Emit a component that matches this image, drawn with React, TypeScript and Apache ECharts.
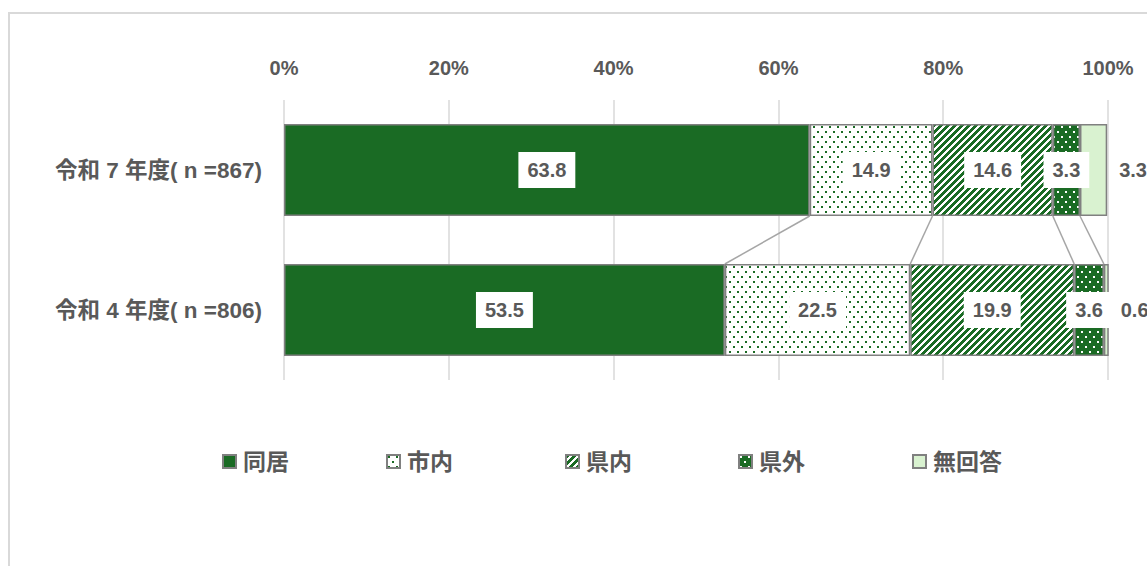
import React, { useEffect, useRef } from "react";
import * as echarts from "echarts";

const categories = ["令和７年度( n =867)", "令和４年度( n =806)"];
const categoryLabels = ["令和 7 年度( n =867)", "令和 4 年度( n =806)"];
const seriesNames = ["同居", "市内", "県内", "県外", "無回答"];
const r7Values = [63.8, 14.9, 14.6, 3.3, 3.3];
const r4Values = [53.5, 22.5, 19.9, 3.6, 0.6];
const xTicks = [0, 20, 40, 60, 80, 100];

const GREEN = "#1a6b24";
const LIGHT = "#d9f2d0";
const FONT = "'Liberation Sans', Arial, 'Noto Sans CJK JP', sans-serif";
const legendLefts = [222, 386, 565, 738, 912];

function makePattern(w: number, h: number, bg: string, fg: string, test: (x: number, y: number) => boolean) {
  const c = document.createElement("canvas");
  c.width = w;
  c.height = h;
  const ctx = c.getContext("2d")!;
  ctx.fillStyle = bg;
  ctx.fillRect(0, 0, w, h);
  ctx.fillStyle = fg;
  for (let y = 0; y < h; y++) {
    for (let x = 0; x < w; x++) {
      if (test(x, y)) ctx.fillRect(x, y, 1, 1);
    }
  }
  return { image: c, repeat: "repeat", imageWidth: w, imageHeight: h } as any;
}

const dotTest = (x: number, y: number) =>
  ((x === 1 || x === 2) && (y === 1 || y === 2)) || ((x === 5 || x === 6) && (y === 6 || y === 7));

export default function App() {
  const ref = useRef<HTMLDivElement>(null);
  useEffect(() => {
    if (!ref.current) return;
    const chart = echarts.init(ref.current, undefined, { renderer: "svg" });

    const fills: any[] = [
      GREEN,
      makePattern(8, 10, "#ffffff", GREEN, dotTest),
      makePattern(7, 7, "#ffffff", GREEN, (x, y) => (x + y) % 7 < 4),
      makePattern(8, 10, GREEN, "#ffffff", dotTest),
      LIGHT,
    ];

    const barSeries = seriesNames.map((name, i) => ({
      name,
      type: "bar",
      stack: "total",
      barWidth: 92,
      data: [r7Values[i], r4Values[i]],
      itemStyle: { color: fills[i], borderColor: "#808080", borderWidth: 1.5 },
      label: {
        show: true,
        position: i === 4 ? "right" : "inside",
        distance: 12,
        formatter: (p: any) => Number(p.value).toFixed(1),
        fontFamily: FONT,
        fontSize: 20,
        fontWeight: "bold",
        color: "#595959",
        backgroundColor: i === 4 ? "transparent" : "#ffffff",
        padding: i === 4 ? 0 : [8, 9],
      },
      emphasis: { disabled: true },
    }));

    // cumulative boundaries for series lines
    const lineData: number[][] = [];
    let a = 0;
    let b = 0;
    for (let i = 0; i < seriesNames.length - 1; i++) {
      a += r7Values[i];
      b += r4Values[i];
      lineData.push([a, b, 0]);
    }

    const seriesLines = {
      type: "custom",
      silent: true,
      encode: { x: [0, 1], y: 2 },
      data: lineData,
      renderItem: (params: any, api: any) => {
        const p1 = api.coord([api.value(0), 0]);
        const p2 = api.coord([api.value(1), 1]);
        return {
          type: "line",
          shape: { x1: p1[0], y1: p1[1] + 46, x2: p2[0], y2: p2[1] - 46 },
          style: { stroke: "#a6a6a6", lineWidth: 1.5 },
        };
      },
      z: 1,
    };

    chart.setOption({
      animation: false,
      textStyle: { fontFamily: FONT },
      graphic: [
        {
          type: "rect",
          shape: { x: 9, y: 13, width: 1300, height: 700 },
          style: { fill: "none", stroke: "#d9d9d9", lineWidth: 2 },
          silent: true,
        },
      ],
      grid: { left: 284, right: 39, top: 100, bottom: 186, containLabel: false },
      xAxis: {
        type: "value",
        position: "top",
        min: 0,
        max: 100,
        interval: 20,
        axisLine: { show: false },
        axisTick: { show: false },
        splitLine: { show: true, lineStyle: { color: "#d9d9d9", width: 1.5 } },
        axisLabel: {
          formatter: (v: number) => (xTicks.includes(v) ? v + "%" : ""),
          fontFamily: FONT,
          fontSize: 20,
          fontWeight: "bold",
          color: "#595959",
          margin: 22,
        },
      },
      yAxis: {
        type: "category",
        inverse: true,
        data: categories,
        axisLine: { show: false },
        axisTick: { show: false },
        axisLabel: {
          formatter: (_v: string, idx: number) => categoryLabels[idx],
          fontFamily: FONT,
          fontSize: 22.5,
          fontWeight: "bold",
          color: "#595959",
          margin: 22,
        },
      },
      legend: seriesNames.map((name, i) => ({
        data: [{ name, icon: "rect" }],
        left: legendLefts[i],
        top: 450,
        padding: 0,
        itemWidth: 13,
        itemHeight: 13,
        itemGap: 7,
        selectedMode: false,
        textStyle: { fontFamily: FONT, fontSize: 23, fontWeight: "bold", color: "#595959", padding: [0, 0, 0, 2] },
      })),
      series: [...barSeries, seriesLines],
    });
    return () => chart.dispose();
  }, []);
  return <div ref={ref} style={{ position: "absolute", left: 0, top: 0, width: 1147, height: 566 }} />;
}
